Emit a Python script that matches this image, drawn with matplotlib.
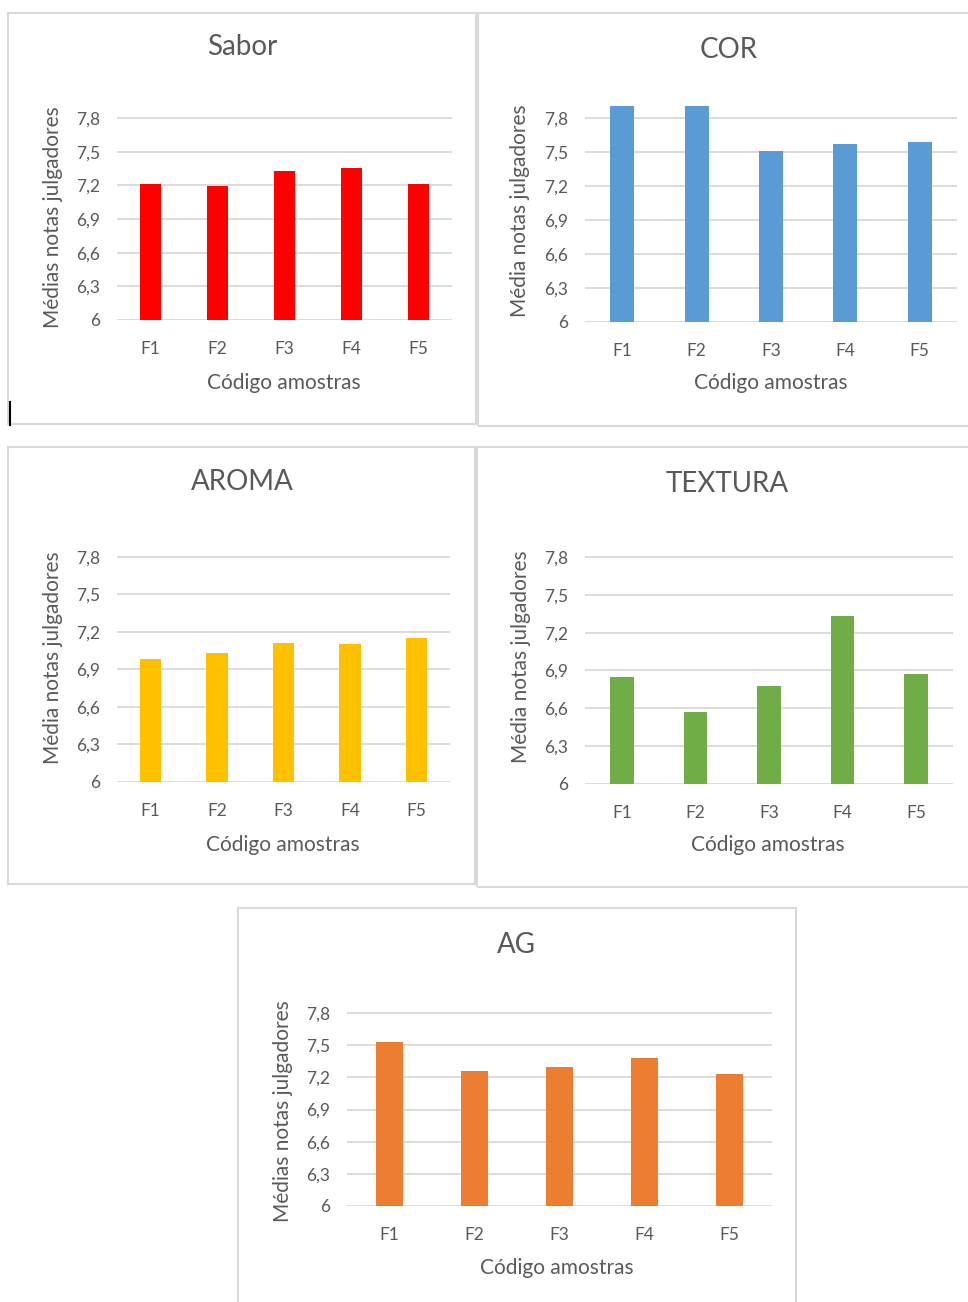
import matplotlib
matplotlib.use("Agg")
import matplotlib.pyplot as plt
from matplotlib.patches import Rectangle
from matplotlib.lines import Line2D

plt.rcParams['font.family'] = ['Lato', 'DejaVu Sans']

W, H = 968, 1302

amostras = ['F1', 'F2', 'F3', 'F4', 'F5']
sabor = [7.21, 7.19, 7.33, 7.35, 7.21]
cor = [7.91, 7.91, 7.51, 7.57, 7.59]
aroma = [6.98, 7.03, 7.11, 7.10, 7.15]
textura = [6.85, 6.57, 6.78, 7.33, 6.87]
ag = [7.53, 7.26, 7.30, 7.38, 7.23]

y_ticks = [6, 6.3, 6.6, 6.9, 7.2, 7.5, 7.8]
y_labels = ['6', '6,3', '6,6', '6,9', '7,2', '7,5', '7,8']

TXT = '#595959'
GRID = '#d9d9d9'

fig = plt.figure(figsize=(W / 100, H / 100), dpi=100)


def fx(x):
    return x / W


def fy(y):
    return 1 - y / H


def frame(l, t, r, b):
    fig.add_artist(Rectangle((fx(l), fy(b)), (r - l) / W, (b - t) / H,
                             transform=fig.transFigure, fill=False,
                             ec=GRID, lw=1.5))


def painel(valores, cor_barra, titulo, ylab, left, right, y6, y78, ytop,
           tit_xy, xlab_xy, ylab_xy):
    top = y6 - (ytop - 6) * (y6 - y78) / 1.8
    ax = fig.add_axes([fx(left), fy(y6), (right - left) / W, (y6 - top) / H])
    ax.bar(range(len(amostras)), [v - 6 for v in valores], bottom=6,
           width=0.32, color=cor_barra, zorder=3)
    ax.set_xlim(-0.5, len(amostras) - 0.5)
    ax.set_ylim(6, ytop)
    ax.set_yticks(y_ticks)
    ax.set_yticklabels(y_labels)
    ax.set_xticks(range(len(amostras)))
    ax.set_xticklabels(amostras)
    ax.tick_params(length=0, labelsize=12.5, labelcolor=TXT)
    ax.tick_params(axis='y', pad=12)
    ax.tick_params(axis='x', pad=15)
    ax.grid(axis='y', color=GRID, lw=1.3, zorder=0)
    for s in ax.spines.values():
        s.set_visible(False)
    ax.set_xlabel('Código amostras', fontsize=15, color=TXT)
    ax.xaxis.set_label_coords(fx(xlab_xy[0]), fy(xlab_xy[1]),
                              transform=fig.transFigure)
    ax.xaxis.label.set_va('center')
    ax.set_ylabel(ylab, fontsize=15, color=TXT)
    ax.yaxis.set_label_coords(fx(ylab_xy[0]), fy(ylab_xy[1]),
                              transform=fig.transFigure)
    ax.yaxis.label.set_va('center')
    fig.text(fx(tit_xy[0]), fy(tit_xy[1]), titulo, fontsize=20, color=TXT,
             ha='center', va='center')
    return ax


# molduras dos graficos
frame(8, 13, 476, 424)
frame(478, 13, 975, 426)
frame(8, 447, 475, 884)
frame(477, 447, 975, 887)
frame(238, 908, 796, 1310)
fig.add_artist(Line2D([fx(9.5), fx(9.5)], [fy(402), fy(425)],
                      transform=fig.transFigure, color='black', lw=1.5))

painel(sabor, '#ff0000', 'Sabor', 'Médias notas julgadores',
       117, 452, 320, 118, 7.85, (242, 47), (284, 383), (53, 217))
painel(cor, '#5b9bd5', 'COR', 'Média notas julgadores',
       585, 957, 322, 118, 8.0, (729, 50), (771, 383), (520, 211))
painel(aroma, '#ffc000', 'AROMA', 'Média notas julgadores',
       117, 450, 782, 557, 7.85, (242, 482), (283, 845), (53, 658))
painel(textura, '#70ad47', 'TEXTURA', 'Média notas julgadores',
       585, 953, 784, 557, 7.85, (727, 484), (768, 845), (521, 657))
painel(ag, '#ed7d31', 'AG', 'Médias notas julgadores',
       347, 772, 1206, 1013, 7.85, (516, 945), (557, 1268), (283, 1111))

fig.savefig('out.png', dpi=100)
